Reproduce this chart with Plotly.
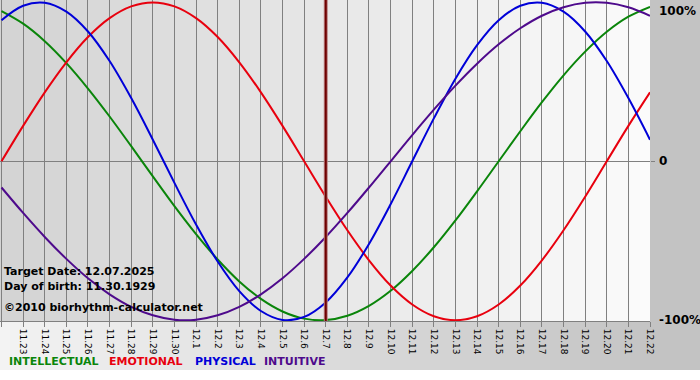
import plotly.graph_objects as go

# ---- data ----
date_labels = ["11.22", "11.23", "11.24", "11.25", "11.26", "11.27", "11.28", "11.29", "11.30",
               "12.1", "12.2", "12.3", "12.4", "12.5", "12.6", "12.7", "12.8", "12.9", "12.10",
               "12.11", "12.12", "12.13", "12.14", "12.15", "12.16", "12.17", "12.18", "12.19",
               "12.20", "12.21", "12.22"]
physical = [88.8, 97.9, 99.8, 94.2, 81.7, 63.1, 39.8, 13.6, -13.6, -39.8, -63.1, -81.7, -94.2,
            -99.8, -97.9, -88.8, -73.1, -52.0, -27.0, 0.0, 27.0, 52.0, 73.1, 88.8, 97.9, 99.8,
            94.2, 81.7, 63.1, 39.8, 13.6]
emotional = [0.0, 22.3, 43.4, 62.3, 78.2, 90.1, 97.5, 100.0, 97.5, 90.1, 78.2, 62.3, 43.4, 22.3,
             0.0, -22.3, -43.4, -62.3, -78.2, -90.1, -97.5, -100.0, -97.5, -90.1, -78.2, -62.3,
             -43.4, -22.3, 0.0, 22.3, 43.4]
intellectual = [94.5, 86.6, 75.6, 61.8, 45.8, 28.2, 9.5, -9.5, -28.2, -45.8, -61.8, -75.6, -86.6,
                -94.5, -99.0, -99.9, -97.2, -91.0, -81.5, -69.0, -54.1, -37.2, -18.9, 0.0, 18.9,
                37.2, 54.1, 69.0, 81.5, 91.0, 97.2]
intuitive = [-16.5, -32.5, -47.6, -61.4, -73.6, -83.7, -91.6, -96.9, -99.7, -99.7, -96.9, -91.6,
             -83.7, -73.6, -61.4, -47.6, -32.5, -16.5, 0.0, 16.5, 32.5, 47.6, 61.4, 73.6, 83.7,
             91.6, 96.9, 99.7, 99.7, 96.9, 91.6]
target_date_label = "12.7"
y_tick_vals = [100, 0, -100]
y_tick_text = ["100%", "0", "-100%"]
info_lines = ["Target Date: 12.07.2025", "Day of birth: 11.30.1929", "©2010 biorhythm-calculator.net"]
legend_names = ["INTELLECTUAL", "EMOTIONAL", "PHYSICAL", "INTUITIVE"]

# ---- styling ----
W, H = 700, 380
ML, MR, MT, MB = 0, 50, 0, 59
PW, PH = W - ML - MR, H - MT - MB

col_int = "#0a850a"
col_emo = "#e8000e"
col_phy = "#0000d8"
col_itu = "#4e0a8c"
FONT = "DejaVu Sans"

x = list(range(len(date_labels)))


def px_x(p):
    return (p - ML) / PW


def px_y(p):
    return (MT + PH - p) / PH


def gray(v):
    v = int(round(v))
    return f"rgb({v},{v},{v})"


fig = go.Figure()

series = [(intellectual, col_int), (emotional, col_emo), (physical, col_phy), (intuitive, col_itu)]
for vals, col in series:
    fig.add_trace(go.Scatter(x=x, y=vals, mode="lines",
                             line=dict(color=col, width=2, shape="spline", smoothing=1.0),
                             hoverinfo="skip", showlegend=False))

shapes = []
# plot area gradient (dark left -> light right)
n = 65
for i in range(n):
    t = (i + 0.5) / n
    shapes.append(dict(type="rect", xref="paper", yref="paper", layer="below",
                       x0=i / n, x1=(i + 1) / n + 0.002, y0=0, y1=1,
                       fillcolor=gray(211 + (251 - 211) * t), line=dict(width=0)))
# bottom region gradient (light left -> dark right)
for i in range(n):
    t = (i + 0.5) / n
    shapes.append(dict(type="rect", xref="paper", yref="paper", layer="below",
                       x0=i / n, x1=(i + 1) / n + 0.002, y0=px_y(370), y1=0,
                       fillcolor=gray(243 + (196 - 243) * t), line=dict(width=0)))
# right margin column
shapes.append(dict(type="rect", xref="paper", yref="paper", layer="below",
                   x0=1, x1=px_x(W), y0=px_y(370), y1=1,
                   fillcolor=gray(195), line=dict(width=0)))

# target date line
ti = date_labels.index(target_date_label)
shapes.append(dict(type="line", xref="x", yref="paper", x0=ti, x1=ti, y0=0, y1=1,
                   line=dict(color="#b88080", width=4), layer="above"))
shapes.append(dict(type="line", xref="x", yref="paper", x0=ti, x1=ti, y0=0, y1=1,
                   line=dict(color="#6e0000", width=2), layer="above"))

annotations = []
# right axis labels
for v, t in zip(y_tick_vals, y_tick_text):
    annotations.append(dict(xref="paper", yref="y", x=px_x(657), y=v, text=f"<b>{t}</b>",
                            showarrow=False, xanchor="left",
                            yanchor="top" if v == 100 else "middle",
                            font=dict(family=FONT, size=12, color="#000000")))
# info text
for txt, py in zip(info_lines, [271, 286, 307]):
    annotations.append(dict(xref="paper", yref="paper", x=px_x(2), y=px_y(py), text=f"<b>{txt}</b>",
                            showarrow=False, xanchor="left", yanchor="middle",
                            font=dict(family=FONT, size=11, color="#000000")))
# legend text
for name, col, px0 in zip(legend_names, [col_int, col_emo, col_phy, col_itu], [7, 107, 193, 262]):
    annotations.append(dict(xref="paper", yref="paper", x=px_x(px0), y=px_y(361), text=f"<b>{name}</b>",
                            showarrow=False, xanchor="left", yanchor="middle",
                            font=dict(family=FONT, size=11, color=col)))

fig.update_layout(
    width=W, height=H,
    margin=dict(l=ML, r=MR, t=MT, b=MB, pad=0),
    paper_bgcolor="#ffffff",
    plot_bgcolor="rgba(0,0,0,0)",
    showlegend=False,
    shapes=shapes,
    annotations=annotations,
    xaxis=dict(range=[-0.07, len(date_labels) - 1], tickmode="array", tickvals=x, ticktext=date_labels,
               tickangle=90, tickfont=dict(family=FONT, size=9, color="#000000"),
               showgrid=True, gridcolor="#808080", gridwidth=1,
               ticks="outside", ticklen=5, tickcolor="#808080", tickwidth=1,
               showline=True, linecolor="#808080", linewidth=1,
               zeroline=False, fixedrange=True),
    yaxis=dict(range=[-100.5, 101.5], side="right", tickmode="array", tickvals=[0],
               ticktext=[""], showgrid=True, gridcolor="#808080", gridwidth=1,
               ticks="outside", ticklen=4, tickcolor="#808080",
               zeroline=False, showline=False, fixedrange=True),
)

fig.write_html("out.html", config={"displayModeBar": False},
               post_script="document.body.style.margin='0';document.body.style.overflow='hidden';")
